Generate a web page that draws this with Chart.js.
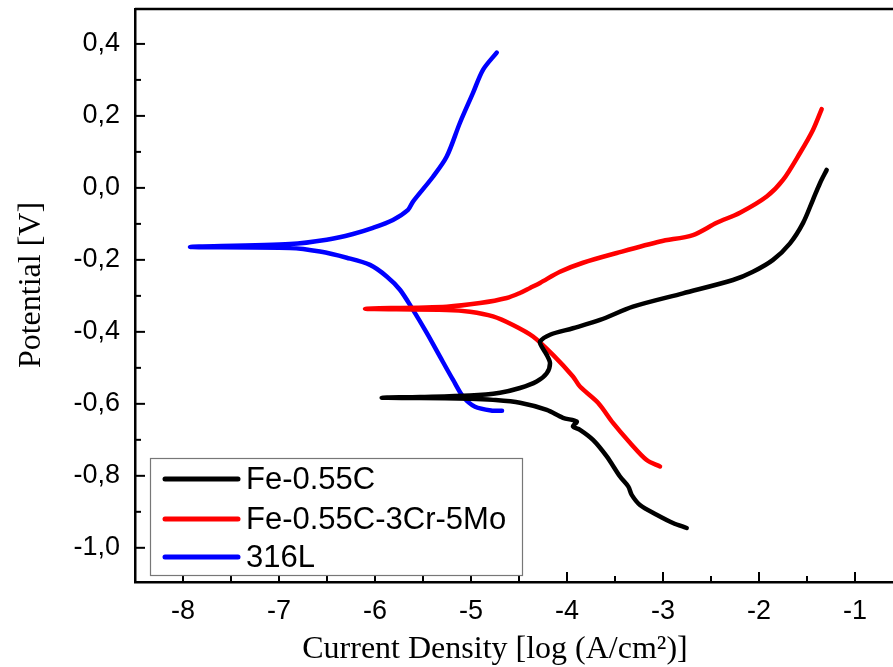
<!DOCTYPE html>
<html>
<head>
<meta charset="utf-8">
<title>Polarization curves</title>
<script src="https://cdn.jsdelivr.net/npm/chart.js@4.4.0/dist/chart.umd.min.js"></script>
<style>
    html, body { margin: 0; padding: 0; background: #fff; overflow: hidden; }
    #wrap { width: 910px; height: 667px; }
</style>
</head>
<body>
<div id="wrap"><canvas id="tafel" width="910" height="667"></canvas></div>
<script>
    // axis ticks
    var xTickValues = [-8, -7, -6, -5, -4, -3, -2, -1];
    var xMinorTicks = [-7.5, -6.5, -5.5, -4.5, -3.5, -2.5, -1.5];
    var yTickValues = [-1.0, -0.8, -0.6, -0.4, -0.2, 0.0, 0.2, 0.4];
    var yMinorTicks = [-0.9, -0.7, -0.5, -0.3, -0.1, 0.1, 0.3];

    var seriesNames = ['Fe-0.55C', 'Fe-0.55C-3Cr-5Mo', '316L'];
    var seriesColors = ['#000000', '#ff0000', '#0000ff'];

    // log current density / potential, cathodic end -> Ecorr -> anodic end
    var feCX = [-2.753, -2.896, -3.066, -3.240, -3.326, -3.361, -3.448, -3.586, -3.729, -3.865, -3.938, -3.899, -4.042, -4.211,
                -4.490, -4.771, -5.010, -5.531, -5.930, -5.531, -5.010, -4.698, -4.490, -4.316, -4.211, -4.177, -4.211, -4.264,
                -4.281, -4.177, -3.938, -3.656, -3.313, -2.792, -2.271, -2.063, -1.854, -1.677, -1.542, -1.438, -1.365, -1.295];
    var feCY = [-0.945, -0.931, -0.908, -0.881, -0.853, -0.830, -0.802, -0.746, -0.700, -0.672, -0.663, -0.649, -0.639, -0.617,
                -0.597, -0.589, -0.586, -0.584, -0.583, -0.581, -0.577, -0.569, -0.556, -0.538, -0.515, -0.487, -0.464, -0.441,
                -0.427, -0.408, -0.390, -0.367, -0.330, -0.293, -0.256, -0.233, -0.200, -0.154, -0.098, -0.033, 0.013, 0.050];

    var crMoX = [-3.031, -3.170, -3.344, -3.521, -3.677, -3.865, -3.938, -4.146, -4.354, -4.563, -4.771, -5.010, -5.253, -6.104,
                 -5.253, -4.906, -4.628, -4.490, -4.385, -4.281, -4.073, -3.833, -3.482, -3.031, -2.688, -2.441, -2.198, -1.920,
                 -1.750, -1.573, -1.438, -1.347];
    var crMoY = [-0.774, -0.756, -0.708, -0.653, -0.597, -0.552, -0.524, -0.464, -0.413, -0.381, -0.357, -0.344, -0.339, -0.336,
                 -0.330, -0.320, -0.306, -0.292, -0.278, -0.264, -0.233, -0.208, -0.181, -0.149, -0.131, -0.097, -0.069, -0.024,
                 0.022, 0.097, 0.161, 0.219];

    var ssX = [-4.677, -4.771, -4.958, -5.083, -5.188, -5.323, -5.461, -5.604, -5.740, -5.878, -6.052, -6.295, -6.573, -6.885,
               -7.927, -6.885, -6.503, -6.229, -6.021, -5.813, -5.656, -5.604, -5.396, -5.253, -5.115, -4.979, -4.875, -4.732];
    var ssY = [-0.619, -0.619, -0.608, -0.580, -0.533, -0.469, -0.403, -0.339, -0.283, -0.246, -0.214, -0.194, -0.177, -0.167,
               -0.164, -0.156, -0.144, -0.128, -0.111, -0.089, -0.061, -0.038, 0.031, 0.087, 0.181, 0.264, 0.328, 0.376];

    function toPoints(xs, ys) {
        return xs.map(function (x, i) { return { x: x, y: ys[i] }; });
    }

    var curves = [toPoints(feCX, feCY), toPoints(crMoX, crMoY), toPoints(ssX, ssY)];

    var datasets = curves.map(function (pts, i) {
        return {
            label: seriesNames[i],
            data: pts,
            showLine: true,
            borderColor: seriesColors[i],
            backgroundColor: seriesColors[i],
            borderWidth: 4.5,
            pointRadius: 0,
            tension: 0.3,
            borderCapStyle: 'round',
            borderJoinStyle: 'round'
        };
    });

    // top frame line, inward ticks, legend box and axis titles
    var framePlugin = {
        id: 'frame',
        afterDraw: function (chart) {
            var ctx = chart.ctx, a = chart.chartArea;
            var xs = chart.scales.x, ys = chart.scales.y;

            function seg(x1, y1, x2, y2) {
                ctx.beginPath(); ctx.moveTo(x1, y1); ctx.lineTo(x2, y2); ctx.stroke();
            }

            ctx.save();
            ctx.strokeStyle = '#000';
            ctx.lineWidth = 2.5;
            seg(a.left, a.top, a.right, a.top);

            ctx.lineWidth = 2;
            xTickValues.forEach(function (v) { var p = xs.getPixelForValue(v); seg(p, a.bottom, p, a.bottom - 10); });
            xMinorTicks.forEach(function (v) { var p = xs.getPixelForValue(v); seg(p, a.bottom, p, a.bottom - 6); });
            yTickValues.forEach(function (v) { var p = ys.getPixelForValue(v); seg(a.left, p, a.left + 10, p); });
            yMinorTicks.forEach(function (v) { var p = ys.getPixelForValue(v); seg(a.left, p, a.left + 6, p); });

            // legend
            ctx.fillStyle = '#fff';
            ctx.fillRect(150.5, 458.5, 372, 117);
            ctx.strokeStyle = '#777';
            ctx.lineWidth = 1.2;
            ctx.strokeRect(150.5, 458.5, 372, 117);
            var rows = [479, 519, 557];
            ctx.font = '31px "Liberation Sans", Arial, sans-serif';
            ctx.textBaseline = 'middle';
            ctx.textAlign = 'left';
            chart.data.datasets.forEach(function (ds, i) {
                ctx.strokeStyle = ds.borderColor;
                ctx.lineWidth = 5;
                ctx.lineCap = 'round';
                seg(165, rows[i], 238, rows[i]);
                ctx.fillStyle = '#000';
                ctx.fillText(ds.label, 246, rows[i] + 1);
            });

            // axis titles
            ctx.fillStyle = '#000';
            ctx.font = '32px "Liberation Serif", "Times New Roman", serif';
            ctx.textAlign = 'center';
            ctx.textBaseline = 'alphabetic';
            ctx.fillText('Current Density [log (A/cm\u00b2)]', 495, 658);

            ctx.translate(40, 285);
            ctx.rotate(-Math.PI / 2);
            ctx.fillText('Potential [V]', 0, 0);
            ctx.restore();
        }
    };

    var tickFont = { family: '"Liberation Sans", Arial, sans-serif', size: 27 };

    var ctx = document.getElementById('tafel').getContext('2d');
    var chart = new Chart(ctx, {
        type: 'scatter',
        data: { datasets: datasets },
        options: {
            responsive: false,
            animation: false,
            layout: { padding: { left: 0, top: 9, right: 7, bottom: 0 } },
            plugins: {
                legend: { display: false },
                tooltip: { enabled: false }
            },
            scales: {
                x: {
                    type: 'linear',
                    min: -8.5,
                    max: -0.5,
                    grid: { display: false, drawTicks: false },
                    border: { display: true, color: '#000', width: 2.5 },
                    ticks: {
                        padding: 13,
                        autoSkip: false,
                        maxRotation: 0,
                        color: '#000',
                        font: tickFont,
                        callback: function (v) { return String(v); }
                    },
                    afterBuildTicks: function (s) {
                        s.ticks = xTickValues.map(function (v) { return { value: v }; });
                    },
                    afterFit: function (s) {
                        s.height = 85;
                        s.paddingLeft = 0;
                        s.paddingRight = 0;
                    }
                },
                y: {
                    type: 'linear',
                    min: -1.095,
                    max: 0.497,
                    grid: { display: false, drawTicks: false },
                    border: { display: true, color: '#000', width: 2.5 },
                    ticks: {
                        padding: 15,
                        autoSkip: false,
                        color: '#000',
                        font: tickFont,
                        callback: function (v) { return v.toFixed(1).replace('.', ','); }
                    },
                    afterBuildTicks: function (s) {
                        s.ticks = yTickValues.map(function (v) { return { value: v }; });
                    },
                    afterFit: function (s) {
                        s.width = 135;
                        s.paddingTop = 0;
                        s.paddingBottom = 0;
                    }
                }
            }
        },
        plugins: [framePlugin]
    });
</script>
</body>
</html>
